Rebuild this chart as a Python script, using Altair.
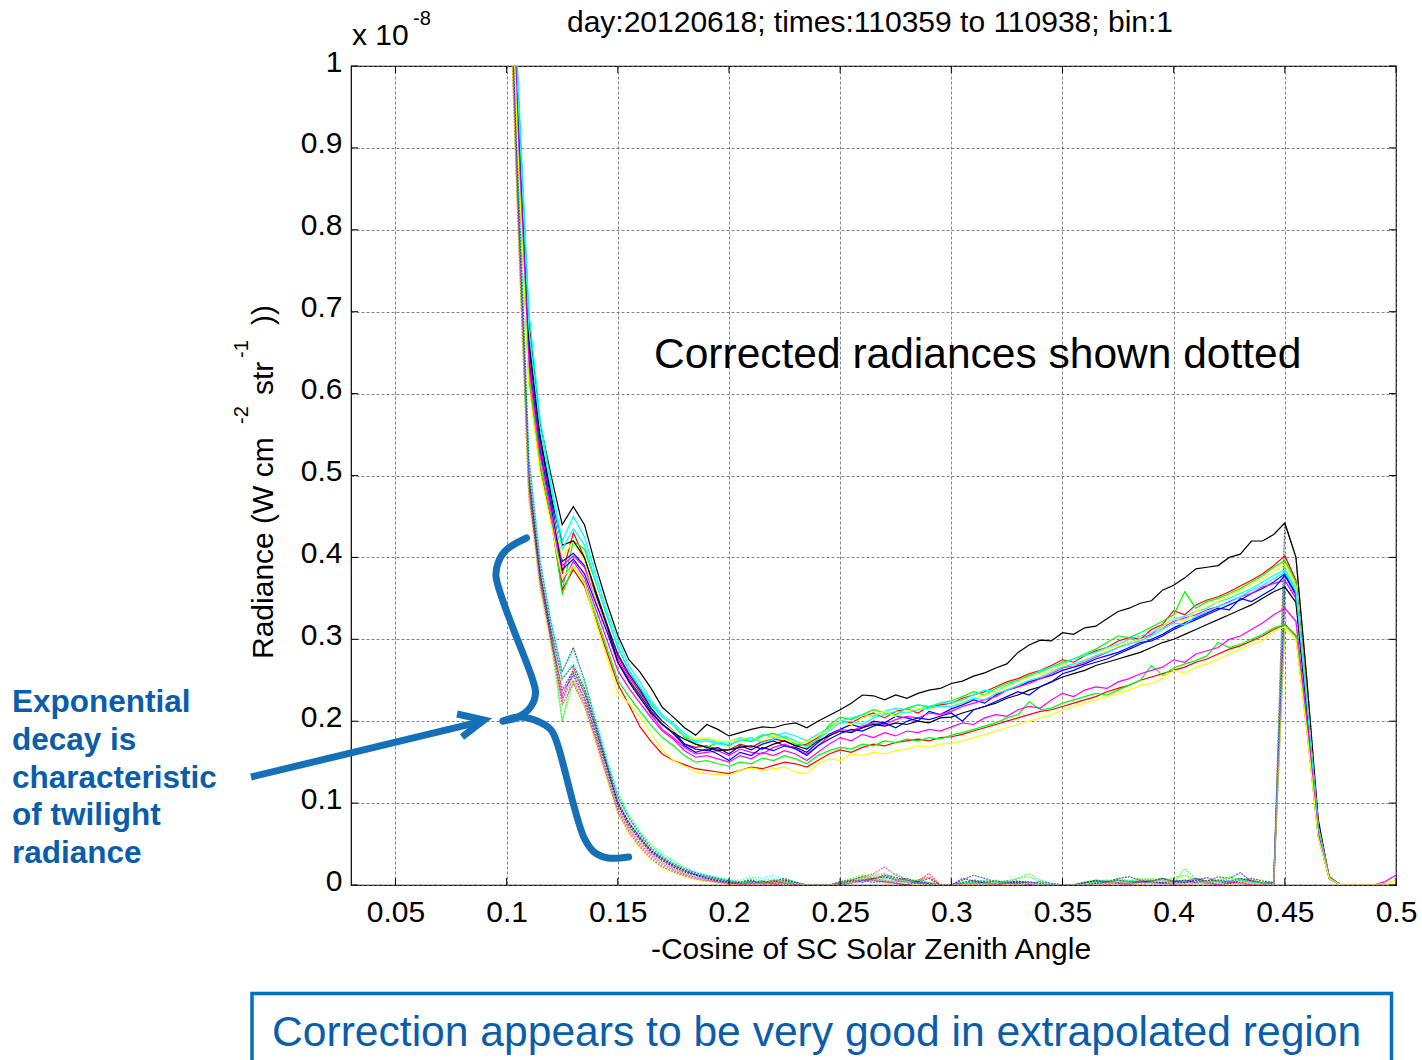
import altair as alt
import pandas as pd

# ---------------- data (radiance in units of 1e-11, i.e. value/1000 -> 1e-8 units) -------------
X_MILLI = [100, 105, 110, 115, 120, 125, 130, 135, 140, 145,
           150, 155, 160, 165, 170, 175, 180, 185, 190, 195,
           200, 205, 210, 215, 220, 225, 230, 235, 240, 245,
           250, 255, 260, 265, 270, 275, 280, 285, 290, 295,
           300, 305, 310, 315, 320, 325, 330, 335, 340, 345,
           350, 355, 360, 365, 370, 375, 380, 385, 390, 395,
           400, 405, 410, 415, 420, 425, 430, 435, 440, 445,
           450, 455, 460, 465, 470, 475, 480, 485, 490, 495, 500]

UP_K1 = [1400, 980, 690, 565, 500, 440, 462, 440, 390, 345,
         305, 275, 260, 240, 217, 205, 192, 183, 196, 190,
         182, 186, 190, 193, 192, 196, 198, 192, 200, 207,
         214, 222, 232, 231, 226, 232, 228, 234, 238, 240,
         246, 249, 255, 259, 265, 270, 284, 293, 299, 298,
         308, 306, 314, 316, 325, 334, 338, 344, 347, 360,
         366, 375, 386, 388, 390, 400, 404, 420, 420, 428,
         442, 400, 248, 80, 8, 0, 0, 0, 0, 0, 0]
UP_R1 = [1350, 940, 650, 540, 470, 380, 430, 400, 360, 320,
         280, 255, 235, 215, 198, 185, 172, 168, 170, 166,
         165, 172, 168, 175, 178, 176, 170, 172, 180, 192,
         200, 198, 205, 210, 204, 212, 215, 210, 218, 220,
         222, 228, 232, 236, 242, 248, 252, 258, 262, 268,
         275, 272, 280, 286, 290, 298, 302, 300, 312, 318,
         335, 330, 342, 348, 352, 358, 365, 372, 380, 390,
         402, 372, 228, 72, 10, 0, 0, 0, 0, 0, 0]
UP_G1 = [1380, 960, 670, 550, 480, 360, 420, 410, 370, 330,
         290, 262, 240, 220, 205, 195, 180, 172, 168, 174,
         170, 178, 175, 182, 185, 180, 172, 170, 178, 195,
         205, 202, 208, 214, 210, 208, 216, 220, 217, 222,
         225, 230, 236, 232, 240, 246, 250, 256, 260, 266,
         272, 276, 282, 288, 296, 304, 302, 308, 315, 322,
         330, 358, 338, 346, 350, 356, 362, 370, 378, 388,
         396, 370, 226, 72, 10, 0, 0, 0, 0, 0, 0]
UP_Y1 = [1300, 920, 630, 520, 460, 400, 420, 395, 350, 310,
         270, 250, 232, 212, 198, 188, 182, 178, 180, 176,
         175, 178, 180, 176, 182, 178, 174, 174, 182, 190,
         200, 196, 204, 208, 212, 206, 212, 216, 214, 218,
         218, 224, 228, 232, 236, 242, 248, 254, 258, 262,
         270, 268, 276, 280, 288, 292, 296, 300, 304, 315,
         325, 322, 334, 340, 346, 354, 360, 368, 374, 382,
         392, 365, 222, 70, 9, 0, 0, 0, 0, 2, 6]
UP_C1 = [1420, 990, 700, 570, 490, 420, 450, 425, 380, 335,
         300, 268, 248, 225, 208, 198, 185, 176, 178, 174,
         175, 180, 176, 184, 180, 186, 182, 176, 184, 192,
         200, 204, 208, 206, 212, 216, 214, 220, 218, 222,
         222, 226, 232, 238, 236, 244, 250, 254, 262, 266,
         270, 276, 280, 284, 290, 294, 300, 304, 308, 316,
         325, 328, 334, 338, 346, 350, 356, 362, 370, 378,
         385, 362, 222, 70, 9, 0, 0, 0, 0, 0, 0]
UP_C2 = [1390, 970, 680, 560, 485, 410, 435, 415, 372, 328,
         292, 262, 242, 222, 205, 195, 182, 174, 176, 172,
         172, 176, 180, 174, 178, 182, 176, 168, 178, 188,
         198, 200, 196, 204, 208, 212, 210, 214, 216, 218,
         218, 222, 228, 226, 234, 238, 244, 250, 254, 260,
         266, 270, 274, 280, 284, 290, 294, 298, 304, 312,
         320, 318, 328, 334, 340, 345, 352, 360, 366, 374,
         382, 358, 220, 69, 9, 0, 0, 0, 0, 0, 0]
UP_B1 = [1360, 950, 660, 545, 470, 395, 405, 390, 355, 318,
         282, 258, 238, 216, 200, 188, 172, 166, 164, 168,
         160, 170, 165, 172, 176, 170, 168, 162, 174, 184,
         190, 196, 192, 200, 198, 206, 204, 200, 212, 208,
         215, 220, 226, 222, 232, 238, 242, 248, 252, 256,
         262, 266, 270, 276, 280, 284, 290, 296, 298, 304,
         312, 318, 324, 330, 336, 342, 348, 356, 362, 370,
         380, 356, 218, 68, 9, 0, 0, 0, 0, 0, 0]
UP_B2 = [1330, 930, 640, 530, 462, 385, 398, 380, 345, 310,
         272, 250, 232, 212, 196, 185, 170, 162, 166, 160,
         152, 162, 158, 168, 164, 170, 166, 158, 170, 178,
         185, 190, 188, 194, 198, 192, 200, 204, 202, 206,
         210, 200, 214, 218, 224, 230, 236, 232, 242, 248,
         258, 262, 268, 272, 276, 282, 288, 294, 300, 306,
         314, 320, 326, 332, 338, 336, 350, 346, 354, 362,
         378, 354, 216, 68, 9, 0, 0, 0, 0, 0, 0]
UP_M1 = [1340, 935, 645, 535, 465, 390, 402, 388, 350, 312,
         276, 252, 230, 208, 190, 180, 168, 160, 162, 164,
         158, 166, 162, 160, 168, 172, 166, 160, 170, 182,
         190, 188, 194, 198, 196, 202, 206, 204, 210, 208,
         212, 218, 222, 226, 230, 238, 242, 246, 252, 258,
         265, 268, 272, 278, 284, 290, 296, 300, 306, 314,
         322, 326, 330, 336, 340, 346, 352, 356, 364, 368,
         372, 350, 214, 67, 9, 0, 0, 0, 0, 4, 12]
UP_K2 = [1370, 955, 665, 548, 475, 415, 420, 400, 358, 318,
         272, 248, 228, 210, 196, 186, 178, 172, 168, 164,
         165, 168, 170, 166, 172, 176, 170, 166, 176, 182,
         188, 186, 192, 196, 194, 198, 196, 200, 198, 204,
         205, 210, 214, 218, 222, 228, 232, 238, 242, 248,
         254, 258, 262, 268, 272, 276, 280, 284, 290, 296,
         300, 306, 312, 318, 324, 330, 336, 342, 350, 358,
         364, 345, 212, 66, 9, 0, 0, 0, 0, 0, 0]
UP_M2 = [1320, 925, 635, 525, 455, 370, 395, 375, 338, 300,
         262, 240, 222, 204, 188, 178, 164, 156, 158, 154,
         150, 158, 154, 162, 158, 164, 160, 152, 162, 172,
         180, 176, 184, 180, 186, 182, 188, 186, 190, 188,
         193, 198, 196, 204, 208, 206, 214, 218, 216, 226,
         234, 230, 238, 242, 240, 248, 252, 258, 262, 266,
         275, 272, 282, 286, 290, 300, 304, 312, 320, 330,
         338, 322, 200, 62, 8, 0, 0, 0, 0, 0, 0]
UP_G2 = [1310, 915, 625, 515, 450, 355, 390, 370, 330, 290,
         250, 230, 212, 195, 180, 170, 158, 150, 152, 148,
         145, 150, 148, 155, 152, 158, 154, 148, 158, 164,
         168, 166, 172, 170, 176, 174, 178, 176, 180, 178,
         183, 186, 190, 194, 198, 204, 208, 224, 214, 216,
         222, 226, 230, 234, 232, 238, 244, 250, 268, 256,
         265, 270, 274, 280, 296, 290, 294, 300, 306, 314,
         318, 305, 190, 60, 8, 0, 0, 0, 0, 0, 0]
UP_R2 = [1290, 905, 615, 510, 445, 360, 385, 365, 325, 285,
         245, 220, 193, 175, 160, 152, 147, 142, 140, 138,
         136, 140, 144, 142, 146, 150, 148, 144, 152, 160,
         165, 162, 168, 172, 170, 174, 176, 178, 176, 180,
         181, 184, 188, 192, 196, 200, 204, 208, 212, 214,
         218, 222, 226, 230, 236, 240, 244, 250, 254, 258,
         262, 266, 272, 276, 282, 288, 292, 298, 304, 312,
         318, 304, 188, 60, 8, 0, 0, 0, 0, 0, 0]
UP_Y2 = [1280, 900, 610, 505, 440, 375, 390, 368, 322, 278,
         234, 222, 205, 185, 165, 152, 145, 138, 136, 135,
         134, 140, 143, 140, 142, 144, 138, 136, 148, 154,
         152, 160, 158, 162, 160, 164, 166, 170, 168, 172,
         173, 176, 180, 184, 188, 192, 196, 200, 204, 208,
         214, 218, 222, 226, 230, 234, 238, 244, 246, 252,
         262, 258, 266, 270, 276, 282, 288, 294, 298, 310,
         315, 300, 186, 58, 8, 0, 0, 0, 0, 0, 0]

# corrected (dotted) radiances: head 0.100-0.200, near-zero part 0.205-0.445;
# beyond 0.445 they coincide with the raw curves
LO_K1_HEAD = [1300, 880, 520, 395, 320, 260, 290, 250, 200, 150, 108, 82, 62, 45, 34, 26, 20, 15, 11, 8, 5]
LO_R1_HEAD = [1240, 840, 490, 375, 300, 225, 265, 235, 192, 146, 98, 74, 56, 40, 30, 22, 16, 12, 8, 5, 3]
LO_G1_HEAD = [1270, 860, 505, 385, 312, 200, 260, 240, 198, 152, 112, 84, 64, 48, 36, 28, 20, 14, 12, 9, 6]
LO_Y1_HEAD = [1220, 830, 480, 370, 305, 245, 262, 230, 186, 140, 94, 70, 52, 38, 28, 20, 15, 10, 7, 4, 2]
LO_C1_HEAD = [1310, 890, 525, 400, 322, 262, 285, 252, 205, 156, 114, 86, 66, 50, 38, 30, 22, 16, 12, 9, 6]
LO_C2_HEAD = [1280, 870, 510, 390, 315, 250, 272, 245, 198, 150, 106, 80, 60, 44, 34, 26, 19, 14, 10, 7, 4]
LO_B1_HEAD = [1250, 850, 500, 380, 308, 238, 262, 234, 190, 146, 102, 76, 58, 42, 32, 24, 18, 13, 9, 6, 4]
LO_B2_HEAD = [1230, 835, 488, 372, 302, 232, 258, 228, 185, 142, 98, 72, 55, 40, 30, 22, 16, 12, 8, 5, 3]
LO_M1_HEAD = [1240, 840, 495, 376, 304, 236, 255, 226, 182, 138, 94, 70, 52, 38, 28, 20, 14, 10, 7, 4, 2]
LO_K2_HEAD = [1260, 855, 502, 382, 310, 252, 268, 240, 195, 148, 100, 76, 58, 42, 32, 24, 18, 13, 10, 7, 4]
LO_M2_HEAD = [1220, 828, 485, 368, 298, 228, 250, 222, 180, 136, 92, 68, 50, 36, 26, 18, 13, 9, 6, 4, 2]
LO_G2_HEAD = [1210, 820, 478, 362, 294, 200, 248, 220, 178, 134, 90, 66, 48, 34, 24, 18, 12, 8, 5, 3, 2]
LO_R2_HEAD = [1200, 815, 472, 385, 296, 220, 246, 218, 176, 132, 88, 64, 46, 32, 22, 16, 11, 7, 5, 3, 1]
LO_Y2_HEAD = [1190, 810, 468, 358, 290, 235, 250, 218, 172, 128, 86, 62, 44, 30, 20, 14, 10, 6, 4, 2, 1]

LO_K1_LOW = [4, 6, 2, 5, 8, 3, 0, 0, 0, 2, 6, 10, 8, 12, 9, 6, 4, 8, 0, 0, 3, 6, 4, 2, 5, 3, 4, 2, 0, 0, 0,
             2, 6, 4, 8, 10, 6, 4, 8, 5, 3, 6, 9, 4, 2, 6, 8, 5, 3]
LO_R1_LOW = [2, 0, 3, 6, 2, 0, 0, 0, 0, 0, 4, 8, 6, 3, 2, 0, 5, 14, 0, 0, 0, 2, 0, 3, 0, 2, 0, 0, 0, 0, 0,
             0, 3, 5, 2, 0, 4, 6, 3, 2, 5, 8, 4, 0, 2, 3, 6, 2, 0]
LO_G1_LOW = [3, 8, 5, 2, 4, 2, 0, 0, 0, 4, 8, 12, 10, 8, 14, 6, 4, 2, 0, 0, 4, 2, 6, 3, 5, 8, 14, 6, 2, 0, 0,
             4, 6, 3, 8, 5, 6, 8, 5, 3, 20, 8, 4, 6, 10, 7, 4, 3, 2]
LO_Y1_LOW = [0, 2, 4, 3, 6, 2, 0, 0, 0, 3, 6, 8, 12, 6, 4, 2, 0, 3, 0, 0, 0, 0, 2, 3, 0, 2, 0, 0, 0, 0, 0,
             0, 2, 4, 6, 3, 5, 8, 4, 6, 10, 5, 3, 6, 8, 4, 2, 3, 0]
LO_C1_LOW = [6, 10, 8, 12, 6, 4, 0, 0, 0, 2, 5, 8, 6, 10, 7, 4, 6, 3, 0, 0, 2, 4, 6, 3, 2, 4, 2, 0, 0, 0, 0,
             2, 4, 6, 3, 5, 4, 6, 8, 4, 6, 3, 5, 4, 6, 8, 5, 3, 2]
LO_C2_LOW = [4, 2, 6, 8, 3, 2, 0, 0, 0, 0, 3, 6, 4, 8, 5, 2, 3, 0, 0, 0, 0, 2, 0, 4, 2, 0, 3, 0, 0, 0, 0,
             0, 3, 2, 5, 3, 2, 4, 6, 3, 4, 2, 5, 3, 4, 6, 3, 2, 0]
LO_B1_LOW = [2, 4, 2, 3, 5, 2, 0, 0, 0, 4, 6, 3, 8, 6, 4, 5, 2, 3, 0, 0, 6, 12, 8, 4, 3, 5, 2, 4, 2, 0, 0,
             3, 5, 4, 6, 3, 5, 4, 3, 6, 4, 8, 5, 10, 8, 15, 4, 2, 3]
LO_B2_LOW = [0, 3, 5, 2, 0, 2, 0, 0, 0, 2, 4, 6, 3, 5, 2, 0, 3, 0, 0, 0, 8, 5, 2, 0, 3, 2, 0, 0, 0, 0, 0,
             0, 2, 4, 3, 2, 5, 3, 2, 4, 3, 6, 4, 2, 5, 3, 2, 0, 0]
LO_M1_LOW = [2, 0, 3, 2, 4, 0, 0, 0, 0, 3, 6, 10, 14, 22, 12, 6, 3, 2, 0, 0, 0, 2, 3, 0, 2, 0, 3, 0, 0, 0, 0,
             0, 2, 3, 5, 2, 4, 3, 6, 2, 4, 3, 2, 5, 3, 4, 6, 2, 0]
LO_K2_LOW = [3, 5, 2, 4, 6, 3, 0, 0, 0, 2, 5, 6, 8, 10, 6, 8, 4, 2, 0, 0, 2, 4, 3, 5, 2, 4, 3, 0, 0, 0, 0,
             3, 5, 2, 6, 4, 3, 5, 8, 4, 6, 3, 5, 6, 4, 8, 5, 3, 2]
LO_M2_LOW = [0, 2, 0, 3, 2, 0, 0, 0, 0, 0, 3, 5, 8, 12, 6, 3, 2, 0, 0, 0, 0, 0, 2, 0, 3, 0, 0, 0, 0, 0, 0,
             0, 0, 3, 2, 0, 4, 2, 3, 0, 2, 4, 2, 0, 3, 2, 0, 0, 0]
LO_G2_LOW = [2, 5, 3, 6, 4, 2, 0, 0, 0, 3, 6, 9, 12, 14, 8, 5, 6, 3, 0, 0, 2, 4, 2, 6, 3, 8, 10, 4, 0, 0, 0,
             2, 4, 6, 3, 5, 8, 6, 4, 9, 12, 6, 4, 5, 8, 6, 4, 3, 2]
LO_R2_LOW = [0, 2, 4, 0, 3, 0, 0, 0, 0, 0, 2, 5, 6, 4, 3, 0, 6, 10, 0, 0, 0, 0, 3, 0, 2, 0, 0, 0, 0, 0, 0,
             0, 2, 0, 3, 2, 0, 4, 2, 3, 0, 2, 4, 0, 2, 3, 0, 0, 0]
LO_Y2_LOW = [0, 0, 2, 3, 0, 2, 0, 0, 0, 2, 4, 8, 10, 6, 3, 2, 0, 0, 0, 0, 0, 0, 2, 0, 0, 0, 2, 0, 0, 0, 0,
             0, 0, 2, 4, 2, 0, 3, 5, 2, 0, 2, 4, 2, 0, 3, 2, 0, 0]

SERIES = [  # name, colour, raw, corrected head, corrected low part
    ("k1", "#000000", UP_K1, LO_K1_HEAD, LO_K1_LOW),
    ("r1", "#FF0000", UP_R1, LO_R1_HEAD, LO_R1_LOW),
    ("g1", "#00FF00", UP_G1, LO_G1_HEAD, LO_G1_LOW),
    ("b1", "#0000FF", UP_B1, LO_B1_HEAD, LO_B1_LOW),
    ("c1", "#00FFFF", UP_C1, LO_C1_HEAD, LO_C1_LOW),
    ("m1", "#FF00FF", UP_M1, LO_M1_HEAD, LO_M1_LOW),
    ("y1", "#FFFF00", UP_Y1, LO_Y1_HEAD, LO_Y1_LOW),
    ("k2", "#000000", UP_K2, LO_K2_HEAD, LO_K2_LOW),
    ("r2", "#FF0000", UP_R2, LO_R2_HEAD, LO_R2_LOW),
    ("g2", "#00FF00", UP_G2, LO_G2_HEAD, LO_G2_LOW),
    ("b2", "#0000FF", UP_B2, LO_B2_HEAD, LO_B2_LOW),
    ("c2", "#00FFFF", UP_C2, LO_C2_HEAD, LO_C2_LOW),
    ("m2", "#FF00FF", UP_M2, LO_M2_HEAD, LO_M2_LOW),
    ("y2", "#FFFF00", UP_Y2, LO_Y2_HEAD, LO_Y2_LOW),
]

X_TICKS = [0.05, 0.1, 0.15, 0.2, 0.25, 0.3, 0.35, 0.4, 0.45, 0.5]
Y_TICKS = [0, 0.1, 0.2, 0.3, 0.4, 0.5, 0.6, 0.7, 0.8, 0.9, 1.0]

# annotation shapes in data coordinates
BRACE_TOP_X = [0.10895, 0.09973, 0.09613, 0.09523, 0.11174, 0.11300, 0.11079, 0.10513, 0.09838]
BRACE_TOP_V = [0.4237, 0.4090, 0.3932, 0.3761, 0.2503, 0.2344, 0.2173, 0.2051, 0.2002]
BRACE_BOT_X = [0.09838, 0.10531, 0.11448, 0.11997, 0.12267, 0.13468, 0.13931, 0.14561, 0.15487]
BRACE_BOT_V = [0.2002, 0.2051, 0.1994, 0.1893, 0.1734, 0.0586, 0.0403, 0.0330, 0.0342]
ARROW_SHAFT_X = [-0.01496, 0.08700]
ARROW_SHAFT_V = [0.1319, 0.1985]
ARROW_HEAD_X = [0.07769, 0.08984, 0.07994]
ARROW_HEAD_V = [0.2088, 0.2015, 0.1807]

# ---------------- build tables ----------------
rows = []
names, colors = [], []
for name, col, up, head, low in SERIES:
    assert len(up) == len(X_MILLI), name
    assert len(head) == 21 and len(low) == 49, name
    lo = head + low + up[70:]
    names += ["U" + name, "L" + name]
    colors += [col, col]
    for xm, a, b in zip(X_MILLI, up, lo):
        rows.append({"x": xm / 1000, "v": a / 1000, "series": "U" + name, "grp": "raw"})
        rows.append({"x": xm / 1000, "v": b / 1000, "series": "L" + name, "grp": "cor"})
df = pd.DataFrame(rows)

shape_rows = []
for i, (xx, vv) in enumerate(zip(BRACE_TOP_X, BRACE_TOP_V)):
    shape_rows.append({"x": xx, "v": vv, "part": "bt", "o": i})
for i, (xx, vv) in enumerate(zip(BRACE_BOT_X, BRACE_BOT_V)):
    shape_rows.append({"x": xx, "v": vv, "part": "bb", "o": i})
arrow_rows = []
for i, (xx, vv) in enumerate(zip(ARROW_SHAFT_X, ARROW_SHAFT_V)):
    arrow_rows.append({"x": xx, "v": vv, "part": "as", "o": i})
for i, (xx, vv) in enumerate(zip(ARROW_HEAD_X, ARROW_HEAD_V)):
    arrow_rows.append({"x": xx, "v": vv, "part": "ah", "o": i})
df_brace = pd.DataFrame(shape_rows)
df_arrow = pd.DataFrame(arrow_rows)

W, H = 1045, 819
FONT = "Liberation Sans"
BLUE_SHAPE = "#1570B8"
BLUE_TEXT = "#0A5DAA"

xs = alt.Scale(domain=[0.03, 0.5], nice=False, zero=False)
ys = alt.Scale(domain=[0, 1], nice=False, zero=False)
xaxis = alt.Axis(values=X_TICKS, title=None, grid=True, ticks=False, domain=False,
                 labelFont=FONT, labelFontSize=30, labelColor="#000", labelPadding=36,
                 labelBaseline="alphabetic", labelFlush=False, labelOverlap=False,
                 format="~g", gridColor="#666", gridDash=[3, 2], gridWidth=0.8)
yaxis = alt.Axis(values=Y_TICKS, title=None, grid=True, ticks=False, domain=False,
                 labelFont=FONT, labelFontSize=30, labelColor="#000", labelPadding=9,
                 labelBaseline="middle", labelOffset=-4, labelFlush=False, labelOverlap=False,
                 format="~g", gridColor="#666", gridDash=[3, 2], gridWidth=0.8)
cscale = alt.Scale(domain=names, range=colors)

base = alt.Chart(df)
lower = base.transform_filter(alt.datum.grp == "cor").mark_line(
    strokeWidth=1.3, strokeDash=[2, 1], opacity=0.6, clip=True
).encode(
    x=alt.X("x:Q", scale=xs, axis=xaxis),
    y=alt.Y("v:Q", scale=ys, axis=yaxis),
    color=alt.Color("series:N", scale=cscale, legend=None),
)
upper = base.transform_filter(alt.datum.grp == "raw").mark_line(
    strokeWidth=1.2, clip=True
).encode(
    x=alt.X("x:Q", scale=xs, axis=xaxis),
    y=alt.Y("v:Q", scale=ys, axis=yaxis),
    color=alt.Color("series:N", scale=cscale, legend=None),
)

# inward ticks on four sides
dfx = pd.DataFrame({"t": X_TICKS})
dfy = pd.DataFrame({"t": Y_TICKS})
tick_layers = [
    alt.Chart(dfx).mark_rule(color="#000", strokeWidth=1).encode(
        x=alt.X("t:Q", scale=xs, axis=xaxis), y=alt.value(H), y2=alt.value(H - 7)),
    alt.Chart(dfx).mark_rule(color="#000", strokeWidth=1).encode(
        x=alt.X("t:Q", scale=xs, axis=xaxis), y=alt.value(0), y2=alt.value(7)),
    alt.Chart(dfy).mark_rule(color="#000", strokeWidth=1).encode(
        y=alt.Y("t:Q", scale=ys, axis=yaxis), x=alt.value(0), x2=alt.value(7)),
    alt.Chart(dfy).mark_rule(color="#000", strokeWidth=1).encode(
        y=alt.Y("t:Q", scale=ys, axis=yaxis), x=alt.value(W), x2=alt.value(W - 7)),
]

brace = alt.Chart(df_brace).mark_line(
    color=BLUE_SHAPE, strokeWidth=7, strokeCap="round", strokeJoin="round",
    interpolate="catmull-rom", clip=False
).encode(
    x=alt.X("x:Q", scale=xs, axis=xaxis), y=alt.Y("v:Q", scale=ys, axis=yaxis),
    detail="part:N", order="o:Q")
arrow = alt.Chart(df_arrow).mark_line(
    color=BLUE_SHAPE, strokeWidth=7, strokeCap="butt", strokeJoin="miter", clip=False
).encode(
    x=alt.X("x:Q", scale=xs, axis=xaxis), y=alt.Y("v:Q", scale=ys, axis=yaxis),
    detail="part:N", order="o:Q")

one = pd.DataFrame({"a": [0]})


def txt(text, x, y, size, color="#000", weight="normal", align="left", angle=0,
        baseline="alphabetic", line_height=None):
    kw = dict(text=text, font=FONT, fontSize=size, color=color, fontWeight=weight,
              align=align, baseline=baseline, angle=angle)
    if line_height is not None:
        kw["lineHeight"] = line_height
    return alt.Chart(one).mark_text(**kw).encode(x=alt.value(x), y=alt.value(y))


texts = [
    txt("day:20120618; times:110359 to 110938; bin:1", 519, -34, 30, align="center"),
    txt("x 10", 1, -21, 30),
    txt("-8", 62, -41, 20),
    txt("-Cosine of SC Solar Zenith Angle", 520, 893, 30, align="center"),
    txt("Radiance (W cm", -78, 593, 30, angle=270),
    txt("-2", -103, 358, 20, angle=270),
    txt("str", -78, 329, 30, angle=270),
    txt("-1", -103, 292, 20, angle=270),
    txt("))", -78, 259, 30, angle=270),
    txt("Corrected radiances shown dotted", 303, 302, 42.5),
    txt(["Exponential", "decay is", "characteristic", "of twilight", "radiance"],
        -339, 646, 31.5, color=BLUE_TEXT, weight="bold", line_height=37.8),
    txt("Correction appears to be very good in extrapolated region", -79, 980, 42.6, color=BLUE_TEXT),
]

box = alt.Chart(one).mark_rect(
    fill="#FFFFFF", fillOpacity=0, stroke="#0070C0", strokeWidth=3.5
).encode(x=alt.value(-99), x2=alt.value(1040.5), y=alt.value(927.5), y2=alt.value(1020))

chart = alt.layer(
    lower, upper, *tick_layers, brace, arrow, box, *texts
).properties(
    width=W, height=H,
    autosize=alt.AutoSizeParams(type="none"),
    padding={"left": 351, "top": 66, "right": 26, "bottom": 175},
    background="#FFFFFF",
).configure_view(stroke="#000000", strokeWidth=1.2)

chart.save("out.html", embed_options={"renderer": "svg", "actions": False})
